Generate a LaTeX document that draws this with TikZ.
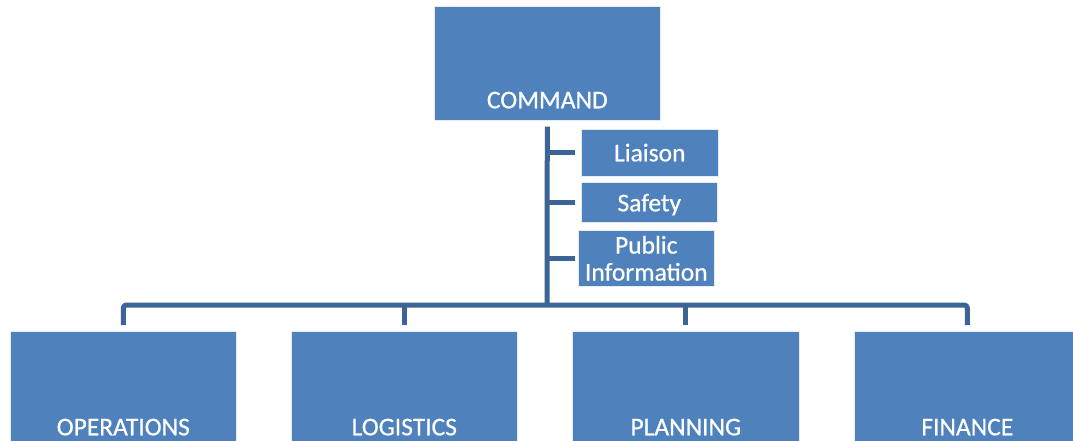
\documentclass[tikz,border=0pt]{standalone}
\usepackage{fontspec}
\setmainfont[FakeBold=0.6]{Carlito}
\definecolor{boxblue}{RGB}{79,129,189}
\definecolor{linkblue}{RGB}{60,100,150}
\begin{document}
\begin{tikzpicture}[x=1pt,y=-1pt,
  box/.style={fill=boxblue,draw=white!85!boxblue,line width=0.6pt,inner sep=0pt,text=white,
    font=\fontsize{25.5}{27}\selectfont,anchor=north west},
  conn/.style={draw=linkblue,line width=5pt,line join=round}]
\useasboundingbox (0,0) rectangle (1073,441);
\clip (0,0) rectangle (1073,441);
% top
\node[box,minimum width=226pt,text height=102pt,text depth=12pt] (cmd) at (434,6) {COMMAND};
\node[box,minimum width=137pt,text height=32pt,text depth=15pt] (lia) at (581,129) {Liaison};
\node[box,minimum width=136pt,text height=29pt,text depth=11pt] (saf) at (581,182) {Safety};
\node[box,minimum width=136pt,minimum height=56pt,align=center] (pub) at (578,230) {Public\\Information};
% bottom
\node[box,minimum width=226pt,text height=104pt,text depth=16pt] (ops) at (10,331) {OPERATIONS};
\node[box,minimum width=226pt,text height=104pt,text depth=16pt] (log) at (291,331) {LOGISTICS};
\node[box,minimum width=227pt,text height=104pt,text depth=16pt] (pla) at (572,331) {PLANNING};
\node[box,minimum width=226pt,text height=104pt,text depth=16pt] (fin) at (854,331) {FINANCE};
% connectors
\coordinate (j) at (547,305);
\draw[conn] ([yshift=-6pt]cmd.south) -- (j);
\draw[conn,rounded corners=3pt] ([yshift=6pt]ops.north) |- (j) -| ([yshift=6pt]fin.north);
\draw[conn] ([yshift=6pt]log.north) -- (log.north |- j);
\draw[conn] ([yshift=6pt]pla.north) -- (pla.north |- j);
\draw[conn] (cmd.south |- lia.west) -- ([xshift=-6pt]lia.west);
\draw[conn] (cmd.south |- saf.west) -- ([xshift=-6pt]saf.west);
\draw[conn] (cmd.south |- pub.west) -- ([xshift=-3pt]pub.west);
\end{tikzpicture}
\end{document}
